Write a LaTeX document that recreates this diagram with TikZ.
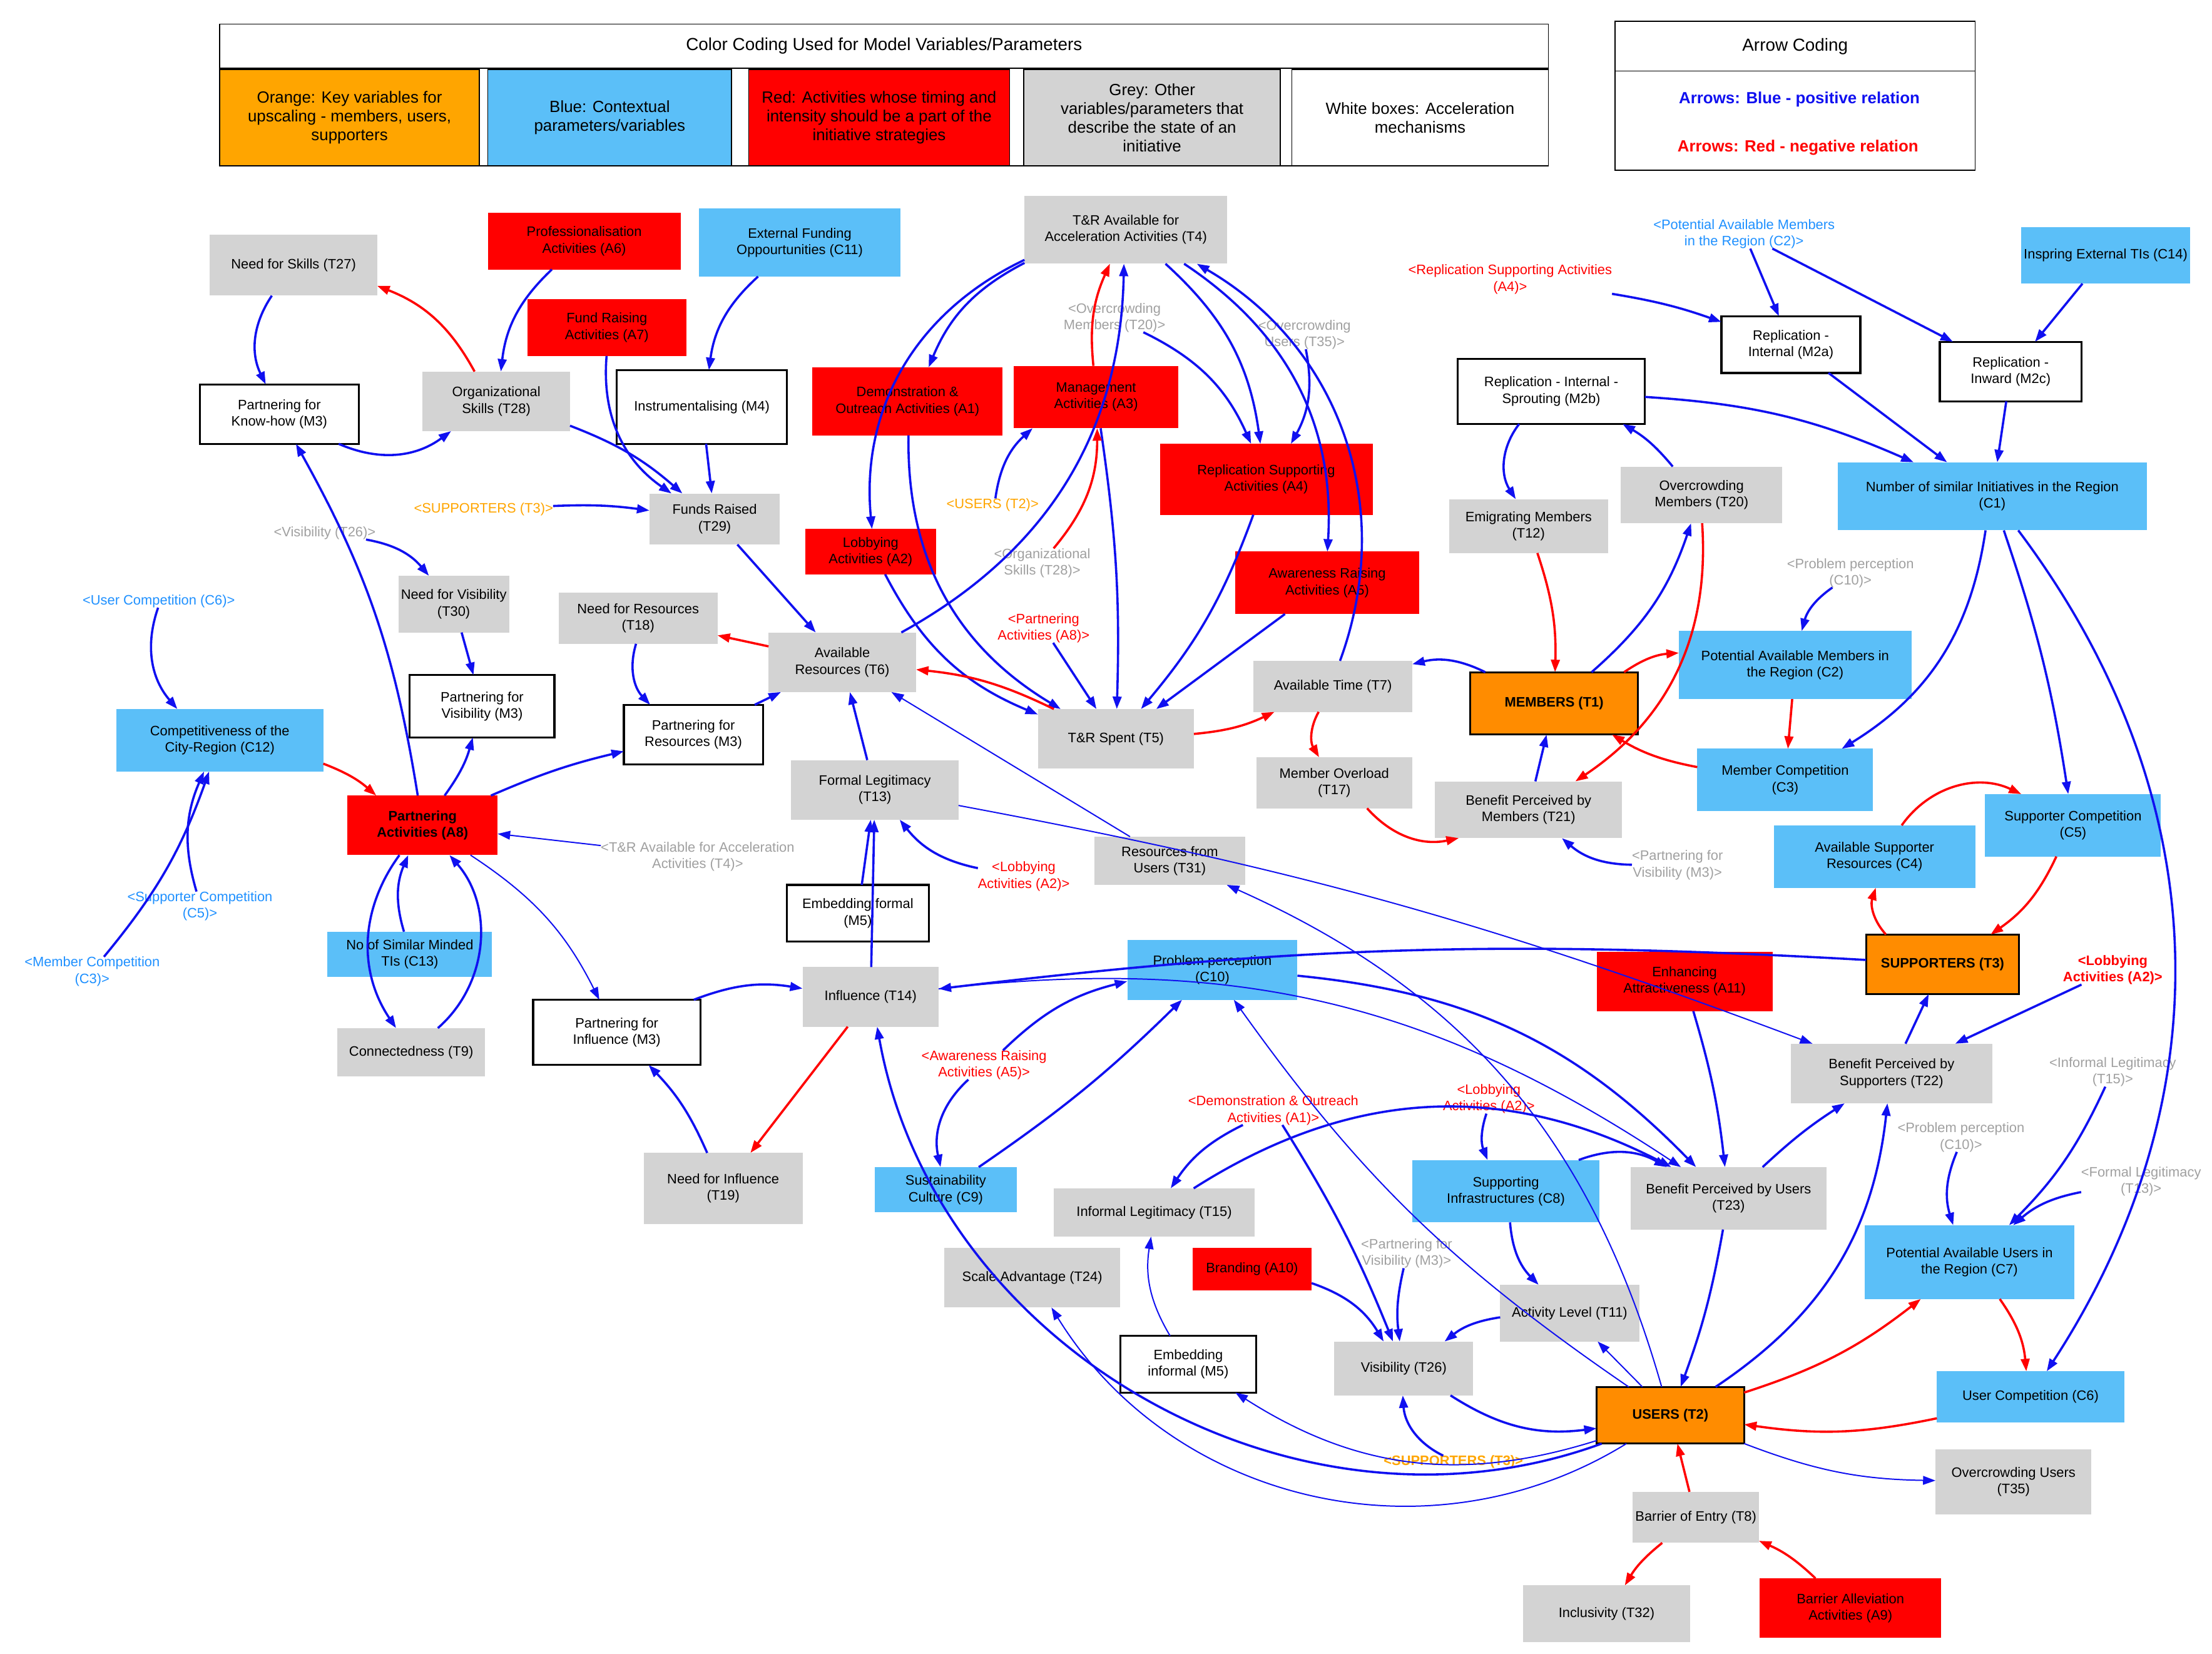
\documentclass[tikz,border=0pt]{standalone}
\usepackage{fontspec}
\setmainfont{Liberation Sans}
\usetikzlibrary{arrows.meta}
\definecolor{kblue}{HTML}{5BBFF8}
\definecolor{korange}{HTML}{FF8C00}
\definecolor{lorange}{HTML}{FFA500}
\definecolor{kgrey}{HTML}{D3D3D3}
\definecolor{eblue}{HTML}{1010F0}
\definecolor{lblue}{HTML}{1E90FF}
\definecolor{lgrey}{HTML}{A0A0A0}
\tikzset{%
    box/.style={%
        rectangle,
        align=center,
        inner sep = 1pt,
        outer sep = 0pt,
        font=\fontsize{5.5}{6.6}\selectfont
    },
    sz/.style 2 args={%
        minimum width=#1*0.02cm,
        minimum height=#2*0.02cm
    },
    grey var/.style={box, fill=kgrey},
    context var/.style={box, fill=kblue},
    activity/.style={box, fill=red},
    key var/.style={box, fill=korange, draw=black, line width=0.8pt, font=\fontsize{5.5}{6.6}\selectfont\bfseries},
    mechanism/.style={box, fill=white, draw=black, line width=0.8pt},
    shadow/.style={box, inner sep=0pt},
    positive/.style={%
        draw=eblue, line width=0.9pt,
        -{Triangle[length=5pt,width=3.5pt]}
    },
    thin positive/.style={positive, line width=0.5pt},
    negative/.style={%
        draw=red, line width=0.9pt,
        -{Triangle[length=5pt,width=3.5pt]}
    },
}

\begin{document}
\begin{tikzpicture}[x=0.02cm, y=-0.02cm]
    \useasboundingbox (0,0) rectangle (1560,1166);

    % legend
    \node[box, draw=black, sz={937}{100}, anchor=north west] (legend) at (155,17) {};
    \node[box, anchor=north west, sz={937}{31}, draw=black, font=\fontsize{7}{8}\selectfont] (legtitle) at (155,17) {Color Coding Used for Model Variables/Parameters};
    \node[box, fill=lorange, draw=black, sz={183}{68}, font=\fontsize{6.5}{7.5}\selectfont] (legorange) at (246.5,83) {Orange: Key variables for\\upscaling - members, users,\\supporters};
    \node[box, fill=kblue, draw=black, sz={172}{68}, font=\fontsize{6.5}{7.5}\selectfont] (legblue) at (430,83) {Blue: Contextual\\parameters/variables};
    \node[box, fill=red, draw=black, sz={184}{68}, font=\fontsize{6.5}{7.5}\selectfont] (legred) at (620,83) {Red: Activities whose timing and\\intensity should be a part of the\\initiative strategies};
    \node[box, fill=kgrey, draw=black, sz={181}{68}, font=\fontsize{6.5}{7.5}\selectfont] (leggrey) at (812.5,83) {Grey: Other\\variables/parameters that\\describe the state of an\\initiative};
    \node[box, draw=black, sz={181}{68}, font=\fontsize{6.5}{7.5}\selectfont] (legwhite) at (1001.5,83) {White boxes: Acceleration\\mechanisms};

    \node[box, draw=black, sz={254}{105}, anchor=north west] (arrowleg) at (1139,15) {};
    \draw (1139,50) -- (1393,50);
    \node[box, font=\fontsize{7}{8}\selectfont] (arrowtitle) at (1266,33) {Arrow Coding};
    \node[box, text=eblue, font=\fontsize{6.5}{7.5}\selectfont\bfseries] (arrowpos) at (1269,70) {Arrows: Blue - positive relation};
    \node[box, text=red, font=\fontsize{6.5}{7.5}\selectfont\bfseries] (arrowneg) at (1268,104) {Arrows: Red - negative relation};

    % variables
    \node[grey var, sz={118}{43}] (T27) at (207,187) {Need for Skills (T27)};
    \node[activity, sz={136}{40}] (A6) at (412,170) {Professionalisation\\Activities (A6)};
    \node[context var, sz={142}{48}] (C11) at (564,171) {External Funding\\Oppourtunities (C11)};
    \node[grey var, sz={143}{48}] (T4) at (794,162) {T\&R Available for\\Acceleration Activities (T4)};
    \node[activity, sz={112}{40}] (A7) at (428,231) {Fund Raising\\Activities (A7)};
    \node[grey var, sz={104}{42}] (T28) at (350,283) {Organizational\\Skills (T28)};
    \node[mechanism, sz={112}{42}] (M3kh) at (197,292) {Partnering for\\Know-how (M3)};
    \node[mechanism, sz={120}{52}] (M4) at (495,287) {Instrumentalising (M4)};
    \node[activity, sz={134}{48}] (A1) at (640,283) {Demonstration \&\\Outreach Activities (A1)};
    \node[activity, sz={116}{44}] (A3) at (773,280) {Management\\Activities (A3)};
    \node[activity, sz={150}{50}] (A4) at (893,338) {Replication Supporting\\Activities (A4)};
    \node[grey var, sz={92}{36}] (T29) at (504,366) {Funds Raised\\(T29)};
    \node[activity, sz={92}{32}] (A2) at (614,389) {Lobbying\\Activities (A2)};
    \node[activity, sz={130}{44}] (A5) at (936,411) {Awareness Raising\\Activities (A5)};
    \node[grey var, sz={78}{40}] (T30) at (320,426) {Need for Visibility\\(T30)};
    \node[grey var, sz={112}{36}] (T18) at (450,436) {Need for Resources\\(T18)};
    \node[grey var, sz={104}{42}] (T6) at (594,467) {Available\\Resources (T6)};
    \node[grey var, sz={112}{36}] (T7) at (940,484) {Available Time (T7)};
    \node[grey var, sz={110}{42}] (T5) at (787,521) {T\&R Spent (T5)};
    \node[mechanism, sz={102}{44}] (M3vis) at (340,498) {Partnering for\\Visibility (M3)};
    \node[mechanism, sz={98}{42}] (M3res) at (489,518) {Partnering for\\Resources (M3)};
    \node[context var, sz={146}{44}] (C12) at (155,522) {Competitiveness of the\\City-Region (C12)};
    \node[activity, sz={106}{42}, font=\fontsize{5.5}{6.6}\selectfont\bfseries] (A8) at (298,582) {Partnering\\Activities (A8)};
    \node[grey var, sz={118}{42}] (T13) at (617,557) {Formal Legitimacy\\(T13)};
    \node[grey var, sz={110}{36}] (T17) at (941,552) {Member Overload\\(T17)};
    \node[mechanism, sz={132}{46}] (M2b) at (1094,276) {Replication - Internal -\\Sprouting (M2b)};
    \node[mechanism, sz={98}{40}] (M2a) at (1263,243) {Replication -\\Internal (M2a)};
    \node[mechanism, sz={100}{42}] (M2c) at (1418,262) {Replication -\\Inward (M2c)};
    \node[context var, sz={116}{40}] (C14) at (1485,180) {Inspring External TIs (C14)};
    \node[context var, sz={218}{48}] (C1) at (1405,350) {Number of similar Initiatives in the Region\\(C1)};
    \node[grey var, sz={112}{38}] (T12) at (1078,371) {Emigrating Members\\(T12)};
    \node[grey var, sz={114}{40}] (T20) at (1200,349) {Overcrowding\\Members (T20)};
    \node[key var, sz={118}{44}] (T1) at (1096,496) {MEMBERS (T1)};
    \node[context var, sz={164}{48}] (C2) at (1266,469) {Potential Available Members in\\the Region (C2)};
    \node[grey var, sz={132}{40}] (T21) at (1078,571) {Benefit Perceived by\\Members (T21)};
    \node[context var, sz={124}{44}] (C3) at (1259,550) {Member Competition\\(C3)};
    \node[context var, sz={142}{44}] (C4) at (1322,604) {Available Supporter\\Resources (C4)};
    \node[context var, sz={124}{44}] (C5) at (1462,582) {Supporter Competition\\(C5)};
    \node[grey var, sz={106}{34}] (T31) at (825,607) {Resources from\\Users (T31)};
    \node[mechanism, sz={100}{40}] (M5f) at (605,644) {Embedding formal\\(M5)};
    \node[context var, sz={116}{32}] (C13) at (289,673) {No of Similar Minded\\TIs (C13)};
    \node[grey var, sz={96}{42}] (T14) at (614,703) {Influence (T14)};
    \node[mechanism, sz={118}{46}] (M3inf) at (435,728) {Partnering for\\Influence (M3)};
    \node[grey var, sz={104}{34}] (T9) at (290,742) {Connectedness (T9)};
    \node[context var, sz={120}{42}] (C10) at (855,684) {Problem perception\\(C10)};
    \node[activity, sz={124}{42}] (A11) at (1188,692) {Enhancing\\Attractiveness (A11)};
    \node[key var, sz={108}{42}] (T3) at (1370,680) {SUPPORTERS (T3)};
    \node[grey var, sz={142}{42}] (T22) at (1334,757) {Benefit Perceived by\\Supporters (T22)};
    \node[grey var, sz={112}{50}] (T19) at (510,838) {Need for Influence\\(T19)};
    \node[context var, sz={100}{32}] (C9) at (667,839) {Sustainability\\Culture (C9)};
    \node[grey var, sz={142}{34}] (T15) at (814,855) {Informal Legitimacy (T15)};
    \node[context var, sz={132}{44}] (C8) at (1062,840) {Supporting\\Infrastructures (C8)};
    \node[grey var, sz={138}{44}] (T23) at (1219,845) {Benefit Perceived by Users\\(T23)};
    \node[context var, sz={148}{52}] (C7) at (1389,890) {Potential Available Users in\\the Region (C7)};
    \node[grey var, sz={124}{42}] (T24) at (728,901) {Scale Advantage (T24)};
    \node[activity, sz={84}{30}] (A10) at (883,895) {Branding (A10)};
    \node[mechanism, sz={96}{40}] (M5i) at (838,962) {Embedding\\informal (M5)};
    \node[grey var, sz={98}{38}] (T26) at (990,965) {Visibility (T26)};
    \node[grey var, sz={98}{40}] (T11) at (1107,926) {Activity Level (T11)};
    \node[key var, sz={104}{40}] (T2) at (1178,998) {USERS (T2)};
    \node[context var, sz={132}{36}] (C6) at (1432,985) {User Competition (C6)};
    \node[grey var, sz={110}{46}] (T35) at (1420,1045) {Overcrowding Users\\(T35)};
    \node[grey var, sz={82}{36}] (T8) at (1196,1070) {Barrier of Entry (T8)};
    \node[grey var, sz={118}{40}] (T32) at (1133,1138) {Inclusivity (T32)};
    \node[activity, sz={128}{42}] (A9) at (1305,1134) {Barrier Alleviation\\Activities (A9)};

    % shadow variables
    \node[shadow, text=lblue] (sC2) at (1230,165) {<Potential Available Members\\in the Region (C2)>};
    \node[shadow, text=red] (sA4) at (1065,197) {<Replication Supporting Activities\\(A4)>};
    \node[shadow, text=lgrey] (sT20) at (786,224) {<Overcrowding\\Members (T20)>};
    \node[shadow, text=lgrey] (sT35) at (920,236) {<Overcrowding\\Users (T35)>};
    \node[shadow, text=lorange] (sT3a) at (341,359) {<SUPPORTERS (T3)>};
    \node[shadow, text=lgrey] (sT26) at (229,376) {<Visibility (T26)>};
    \node[shadow, text=lorange] (sT2) at (700,356) {<USERS (T2)>};
    \node[shadow, text=lgrey] (sT28) at (735,397) {<Organizational\\Skills (T28)>};
    \node[shadow, text=red] (sA8) at (736,443) {<Partnering\\Activities (A8)>};
    \node[shadow, text=lblue] (sC6) at (112,424) {<User Competition (C6)>};
    \node[shadow, text=lgrey] (sC10a) at (1305,404) {<Problem perception\\(C10)>};
    \node[shadow, text=lgrey] (sT4) at (492,604) {<T\&R Available for Acceleration\\Activities (T4)>};
    \node[shadow, text=red] (sA2a) at (722,618) {<Lobbying\\Activities (A2)>};
    \node[shadow, text=lblue] (sC5) at (141,639) {<Supporter Competition\\(C5)>};
    \node[shadow, text=lblue] (sC3) at (65,685) {<Member Competition\\(C3)>};
    \node[shadow, text=lgrey] (sM3a) at (1183,610) {<Partnering for\\Visibility (M3)>};
    \node[shadow, text=red, font=\fontsize{5.5}{6.6}\selectfont\bfseries] (sA2b) at (1490,684) {<Lobbying\\Activities (A2)>};
    \node[shadow, text=red] (sA5) at (694,751) {<Awareness Raising\\Activities (A5)>};
    \node[shadow, text=red] (sA1) at (898,783) {<Demonstration \& Outreach\\Activities (A1)>};
    \node[shadow, text=red] (sA2c) at (1050,775) {<Lobbying\\Activities (A2)>};
    \node[shadow, text=lgrey] (sT15) at (1490,756) {<Informal Legitimacy\\(T15)>};
    \node[shadow, text=lgrey] (sC10b) at (1383,802) {<Problem perception\\(C10)>};
    \node[shadow, text=lgrey] (sT13) at (1510,833) {<Formal Legitimacy\\(T13)>};
    \node[shadow, text=lgrey] (sM3b) at (992,884) {<Partnering for\\Visibility (M3)>};
    \node[shadow, text=lorange, font=\fontsize{5.5}{6.6}\selectfont\bfseries] (sT3b) at (1025,1031) {<SUPPORTERS (T3)>};

    % relations: upper left
    \draw[positive] (T27) to[bend right=30] (M3kh);
    \draw[negative] (T28) to[bend right=20] (T27);
    \draw[positive] (A6) to[bend right=20] (T28);
    \draw[positive] (A7) to[bend right=30] (T29);
    \draw[positive] (T28) to[bend left=10] (T29);
    \draw[positive] (M3kh) to[bend right=30] (T28);
    \draw[positive] (C11) to[bend right=20] (M4);
    \draw[positive] (M4) to (T29);
    \draw[positive] (sT3a) to[bend left=5] (T29);
    \draw[positive] (T29) to (T6);
    \draw[negative] (T6) to (T18);
    \draw[positive] (T18) to[bend right=30] (M3res);
    \draw[positive] (M3res) to (T6);
    \draw[positive] (T6) to[bend right=30] (T4);
    \draw[positive] (T4) to[bend right=20] (A1);
    \draw[positive] (T4) to[bend right=35] (A2);
    \draw[positive] (T4) to[bend left=20] (A4);
    \draw[positive] (T4) to[bend left=30] (A5);
    \draw[positive] (T7) to[bend right=40] (T4);
    \draw[negative] (A3) to[bend left=15] (T4);
    \draw[positive] (sT20) to[bend left=20] (A4);
    \draw[positive] (sT35) to[bend left=20] (A4);
    \draw[positive] (A1) to[bend right=30] (T5);
    \draw[positive] (A2) to[bend right=20] (T5);
    \draw[positive] (A3) to[bend left=5] (T5);
    \draw[positive] (A4) to[bend left=10] (T5);
    \draw[positive] (A5) to (T5);
    \draw[positive] (sT2) to[bend left=20] (A3);
    \draw[negative] (sT28) to[bend right=20] (A3);
    \draw[positive] (sA8) to (T5);
    \draw[negative] (T5) to[bend right=10] (T6);
    \draw[negative] (T5) to[bend right=10] (T7);
    \draw[negative] (T7) to[bend right=30] (T17);
    \draw[positive] (T1) to[bend right=20] (T7);

    % relations: members and replication
    \draw[negative] (T17) to[bend right=30] (T21);
    \draw[positive] (T1) to[bend right=15] (T20);
    \draw[negative] (T20) to[bend left=30] (T21);
    \draw[positive] (T21) to (T1);
    \draw[negative] (T12) to[bend left=10] (T1);
    \draw[positive] (M2b) to[bend right=35] (T12);
    \draw[positive] (T20) to[bend right=10] (M2b);
    \draw[positive] (M2b) to[bend left=10] (C1);
    \draw[positive] (M2a) to (C1);
    \draw[positive] (M2c) to (C1);
    \draw[positive] (C14) to (M2c);
    \draw[positive] (sC2) to (M2a);
    \draw[positive] (sC2) to (M2c);
    \draw[positive] (sA4) to[bend left=5] (M2a);
    \draw[negative] (T1) to[bend left=15] (C2);
    \draw[negative] (C2) to (C3);
    \draw[positive] (sC10a) to[bend right=20] (C2);
    \draw[negative] (C3) to[bend left=10] (T1);
    \draw[positive] (C1) to[bend left=25] (C3);
    \draw[positive] (C1) to[bend left=5] (C5);
    \draw[positive] (C1) to[bend left=35] (C6);
    \draw[negative] (C4) to[bend left=40] (C5);
    \draw[negative] (C5) to[bend left=15] (T3);
    \draw[negative] (T3) to[bend left=30] (C4);
    \draw[positive] (T3) to[bend right=5] (T14);
    \draw[positive] (T22) to (T3);
    \draw[positive] (sA2b) to (T22);
    \draw[positive] (sM3a) to[bend left=20] (T21);

    % relations: partnering
    \draw[thin positive] (T13) to[bend left=5] (T22);
    \draw[thin positive] (T31) to (T6);
    \draw[thin positive] (T2) to[bend right=25] (T31);
    \draw[positive] (T13) to (T6);
    \draw[positive] (M5f) to (T13);
    \draw[positive] (sA2a) to[bend left=20] (T13);
    \draw[thin positive] (sT4) to (A8);
    \draw[negative] (C12) to[bend left=10] (A8);
    \draw[positive] (sC3) to[bend right=10] (C12);
    \draw[positive] (sC5) to[bend left=20] (C12);
    \draw[positive] (sC6) to[bend right=30] (C12);
    \draw[positive] (A8) to[bend right=10] (M3kh);
    \draw[positive] (A8) to[bend right=10] (M3vis);
    \draw[positive] (sT26) to[bend left=20] (T30);
    \draw[positive] (T30) to (M3vis);
    \draw[positive] (A8) to[bend left=5] (M3res);
    \draw[positive] (A8) to[bend right=35] (T9);
    \draw[positive] (T9) to[bend right=45] (A8);
    \draw[positive] (C13) to[bend left=20] (A8);
    \draw[thin positive] (A8) to[bend left=15] (M3inf);
    \draw[positive] (T19) to[bend right=10] (M3inf);
    \draw[positive] (M3inf) to[bend left=15] (T14);
    \draw[negative] (T14) to (T19);
    \draw[positive] (T14) to (T13);
    \draw[positive] (T2) to[bend left=50] (T14);

    % relations: users
    \draw[positive] (C10) to[bend left=20] (T23);
    \draw[positive] (sA5) to[bend right=30] (C9);
    \draw[positive] (sA5) to[bend left=15] (C10);
    \draw[positive] (C9) to[bend right=5] (C10);
    \draw[thin positive] (T14) to[bend left=20] (T23);
    \draw[positive] (T15) to[bend left=30] (T23);
    \draw[positive] (sA1) to[bend right=15] (T15);
    \draw[positive] (sA1) to[bend left=5] (T26);
    \draw[thin positive] (T2) to[bend left=10] (C10);
    \draw[positive] (C8) to[bend left=25] (T23);
    \draw[positive] (sA2c) to[bend right=20] (C8);
    \draw[positive] (C8) to[bend right=20] (T11);
    \draw[positive] (T11) to[bend right=15] (T26);
    \draw[positive] (A10) to[bend left=20] (T26);
    \draw[positive] (sM3b) to[bend right=10] (T26);
    \draw[positive] (T26) to[bend right=20] (T2);
    \draw[positive] (sT3b) to[bend left=30] (T26);
    \draw[positive] (A11) to[bend left=5] (T23);
    \draw[positive] (T23) to[bend left=5] (T22);
    \draw[positive] (T23) to[bend left=5] (T2);
    \draw[positive] (T2) to[bend right=25] (T22);
    \draw[negative] (T2) to[bend right=10] (C7);
    \draw[positive] (sT15) to[bend left=10] (C7);
    \draw[positive] (sC10b) to[bend right=20] (C7);
    \draw[positive] (sT13) to[bend right=15] (C7);
    \draw[negative] (C7) to[bend left=15] (C6);
    \draw[negative] (C6) to[bend left=10] (T2);
    \draw[thin positive] (T2) to[bend right=10] (T35);
    \draw[thin positive] (T2) to (T11);
    \draw[negative] (T8) to (T2);
    \draw[negative] (T8) to[bend right=10] (T32);
    \draw[negative] (A9) to[bend right=10] (T8);
    \draw[thin positive] (T2) to[bend left=45] (T24);
    \draw[thin positive] (T2) to[bend left=25] (M5i);
    \draw[thin positive] (M5i) to[bend left=20] (T15);
\end{tikzpicture}
\end{document}
